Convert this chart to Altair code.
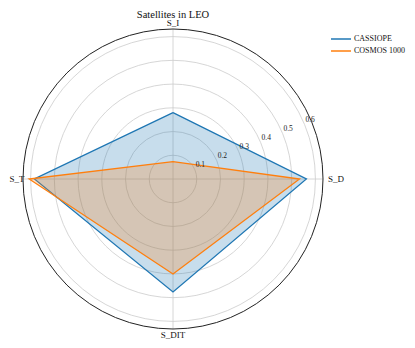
import math
import altair as alt
import pandas as pd

# ---- data ----
categories = ["S_I", "S_D", "S_DIT", "S_T"]
series_names = ["CASSIOPE", "COSMOS 1000"]
cassiope = [0.280, 0.562, 0.476, 0.584]
cosmos = [0.073, 0.533, 0.400, 0.606]
radial_ticks = [0.1, 0.2, 0.3, 0.4, 0.5, 0.6]
radial_labels = ["0.1", "0.2", "0.3", "0.4", "0.5", "0.6"]
colors = ["#1f77b4", "#ff7f0e"]
title = "Satellites in LEO"

RMAX = 0.632
SIZE = 300
FONT = "Liberation Serif"
LABEL_R = RMAX * 156 / 150
LABEL_R_RIGHT = RMAX * 163 / 150

# polygon table (closed: first point repeated)
rows = []
for name, vals in zip(series_names, [cassiope, cosmos]):
    for i in range(len(categories) + 1):
        k = i % len(categories)
        rows.append({"series": name, "cat": categories[k], "idx": i, "value": vals[k]})
poly_df = pd.DataFrame(rows)

cat_df = pd.DataFrame({"cat": categories, "idx": list(range(len(categories)))})
tick_df = pd.DataFrame({"r": radial_ticks, "label": radial_labels})
outer_df = pd.DataFrame({"r": [RMAX]})
title_df = pd.DataFrame({"t": [title]})

xs = alt.Scale(domain=[-RMAX, RMAX], nice=False, zero=False)
ys = alt.Scale(domain=[-RMAX, RMAX], nice=False, zero=False)
rs = alt.Scale(type="linear", domain=[0, RMAX], range=[0, SIZE / 2], zero=True, nice=False)

# grid circles
grid = alt.Chart(tick_df).mark_arc(
    filled=False, stroke="#cccccc", strokeWidth=0.8, theta=math.tau
).encode(radius=alt.Radius("r:Q", scale=rs, stack=None))

outer = alt.Chart(outer_df).mark_arc(
    filled=False, stroke="#222222", strokeWidth=1.0, theta=math.tau
).encode(radius=alt.Radius("r:Q", scale=rs, stack=None))

# spokes
spokes = alt.Chart(cat_df).transform_calculate(
    ang="datum.idx * PI / 2",
    x0="0", y0="0",
    x1=f"{RMAX} * sin(datum.ang)", y1=f"{RMAX} * cos(datum.ang)",
).mark_rule(color="#cccccc", strokeWidth=0.8).encode(
    x=alt.X("x0:Q", scale=xs, axis=None),
    y=alt.Y("y0:Q", scale=ys, axis=None),
    x2="x1:Q", y2="y1:Q",
)

# category labels
cat_labels = alt.Chart(cat_df).transform_calculate(
    ang="datum.idx * PI / 2",
    lx=f"sin(datum.ang) * (sin(datum.ang) > 0.5 ? {LABEL_R_RIGHT} : {LABEL_R})",
    ly=f"{LABEL_R} * cos(datum.ang)",
).mark_text(font=FONT, fontSize=9, color="#111111", align="center", baseline="middle").encode(
    x=alt.X("lx:Q", scale=xs, axis=None),
    y=alt.Y("ly:Q", scale=ys, axis=None),
    text="cat:N",
)

# radial tick labels at 22.5 deg above the right axis
r_labels = alt.Chart(tick_df).transform_calculate(
    lx="datum.r * sin(3 * PI / 8)", ly="datum.r * cos(3 * PI / 8)",
).mark_text(font=FONT, fontSize=7.5, color="#222222", align="center", baseline="middle",
            dx=5.5, dy=-4.5).encode(
    x=alt.X("lx:Q", scale=xs, axis=None),
    y=alt.Y("ly:Q", scale=ys, axis=None),
    text="label:N",
)

# chart title (as a text mark above the polar frame)
title_mark = alt.Chart(title_df).mark_text(
    font=FONT, fontSize=10.5, color="#111111", align="center", baseline="alphabetic"
).encode(x=alt.value(SIZE / 2), y=alt.value(-11.5), text="t:N")

cscale = alt.Scale(domain=series_names, range=colors)

poly_base = alt.Chart(poly_df).transform_calculate(
    ang="datum.idx * PI / 2",
    px="datum.value * sin(datum.ang)", py="datum.value * cos(datum.ang)",
)

legend = alt.Legend(orient="none", legendX=307, legendY=5, padding=0,
                    symbolType="stroke", symbolSize=400, clipHeight=10,
                    symbolStrokeWidth=1.5, labelFont=FONT,
                    labelFontSize=8, labelColor="#111111",
                    labelOffset=2, rowPadding=2)

layers = [grid, spokes, outer]
for name in series_names:
    sub = poly_base.transform_filter(alt.datum.series == name)
    fill_layer = sub.mark_line(fillOpacity=0.25, strokeOpacity=0, strokeWidth=0).encode(
        x=alt.X("px:Q", scale=xs, axis=None),
        y=alt.Y("py:Q", scale=ys, axis=None),
        order="idx:Q",
        fill=alt.Fill("series:N", scale=cscale, legend=None),
    )
    line_layer = sub.mark_line(strokeWidth=1.3, strokeJoin="miter").encode(
        x=alt.X("px:Q", scale=xs, axis=None),
        y=alt.Y("py:Q", scale=ys, axis=None),
        order="idx:Q",
        stroke=alt.Stroke("series:N", scale=cscale, title=None, legend=legend),
    )
    layers += [line_layer, fill_layer]

layers += [cat_labels, r_labels, title_mark]

chart = alt.layer(*layers).properties(
    width=SIZE, height=SIZE,
    autosize=alt.AutoSizeParams(type="none"),
    padding={"left": 15, "top": 21, "right": 84, "bottom": 11},
).configure_view(stroke=None).resolve_scale(fill="shared", stroke="shared")

chart.save("out.html", embed_options={"renderer": "svg", "actions": False})
